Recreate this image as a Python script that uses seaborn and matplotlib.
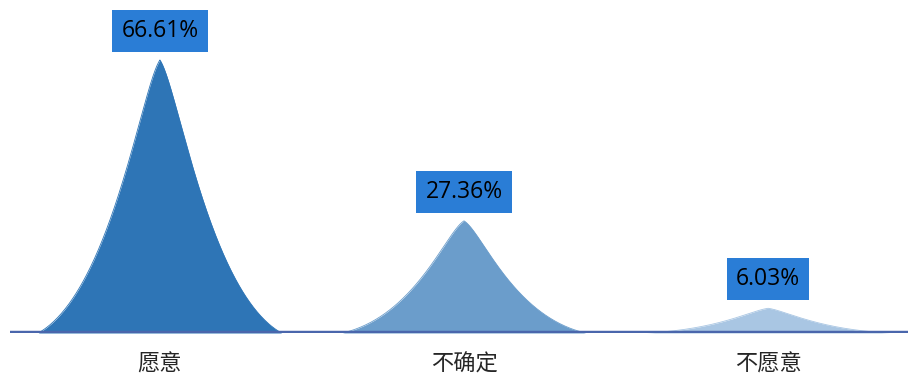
import numpy as np
import pandas as pd
import matplotlib.pyplot as plt
import seaborn as sns

categorias = ["愿意", "不确定", "不愿意"]
valores = [66.61, 27.36, 6.03]
cores = ["#2E75B6", "#6B9DCB", "#A9C6E3"]

sns.set_style("white")
plt.rcParams['font.family'] = ['Noto Sans CJK SC', 'DejaVu Sans']

# perfil do pico: curva de Bezier do topo (0,1) até a base (1,0), espelhada
s = np.linspace(0, 1, 150)
p = [(0, 1), (0.15, 0.9), (0.4, 0.15), (1, 0)]
bx = ((1 - s) ** 3 * p[0][0] + 3 * (1 - s) ** 2 * s * p[1][0]
      + 3 * (1 - s) * s ** 2 * p[2][0] + s ** 3 * p[3][0])
by = ((1 - s) ** 3 * p[0][1] + 3 * (1 - s) ** 2 * s * p[1][1]
      + 3 * (1 - s) * s ** 2 * p[2][1] + s ** 3 * p[3][1])
t = np.concatenate([-bx[::-1], bx[1:]])
forma = np.concatenate([by[::-1], by[1:]])

linhas = []
for i, (cat, v) in enumerate(zip(categorias, valores)):
    linhas.append(pd.DataFrame({"x": i + 0.4 * t, "y": v * forma, "categoria": cat}))
df = pd.concat(linhas, ignore_index=True)

fig = plt.figure(figsize=(9.08, 3.76), dpi=100)
ax = fig.add_axes([10 / 908, 43 / 376, 898 / 908, 323 / 376])

sns.lineplot(data=df, x="x", y="y", hue="categoria", palette=cores, sort=False,
             estimator=None, legend=False, linewidth=0.6, ax=ax)
for cat, cor in zip(categorias, cores):
    sub = df[df["categoria"] == cat]
    ax.fill_between(sub["x"], 0, sub["y"], color=cor, linewidth=0)

ax.axhline(0, color="#4A66AC", linewidth=3.2, zorder=5)

for i, v in enumerate(valores):
    ax.annotate(f"{v:.2f}%", xy=(i, v), xytext=(0, 21), textcoords="offset points",
                ha="center", va="center", fontsize=16.5, color="black",
                family=["Open Sans", "DejaVu Sans"],
                bbox=dict(boxstyle="square,pad=0.4", fc="#2A7DD6", ec="none"))

ax.set_xlim(-0.493, 2.46)
ax.set_ylim(0, 78.8)
ax.set_xticks(range(len(categorias)))
ax.set_xticklabels(categorias, fontsize=16)
ax.tick_params(axis="x", length=0, pad=14)
ax.set_yticks([])
ax.set_xlabel("")
ax.set_ylabel("")
for sp in ax.spines.values():
    sp.set_visible(False)

plt.savefig("out.png", dpi=100)
